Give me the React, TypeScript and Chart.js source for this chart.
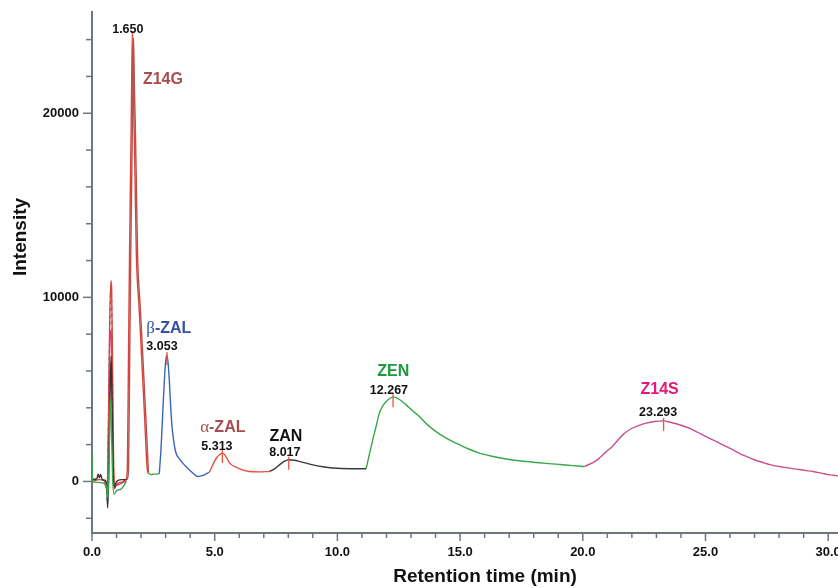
import React, { useEffect, useRef } from "react";
import { Chart, registerables } from "chart.js";

Chart.register(...registerables);

const FONT = "'Liberation Sans', Arial, Helvetica, sans-serif";
const AXIS_COLOR = "#6b7683";

// ---------- axis ticks ----------
const xMajorTicks = [0, 5, 10, 15, 20, 25, 30];
const xMinorTicks = [
  1, 2, 3, 4, 6, 7, 8, 9, 11, 12, 13, 14, 16, 17, 18, 19, 21, 22, 23, 24, 26, 27, 28, 29,
];
const yMajorTicks = [0, 10000, 20000];
const yMinorTicks = [-2000, 2000, 4000, 6000, 8000, 12000, 14000, 16000, 18000, 22000, 24000];

// ---------- trace segments (time in min, intensity) ----------
const blackEarlyT = [0, 0.1, 0.2, 0.25, 0.3, 0.35, 0.42, 0.55, 0.6, 0.64, 0.68, 0.74, 0.78, 0.82, 0.86, 0.92, 1.0, 1.2, 1.42];
const blackEarlyI = [100, 120, 150, 400, 200, 380, 100, 50, -300, -1430, 200, 5000, 6800, 4000, 800, -300, 0, 100, 100];

const greenEarlyT = [0, 0.02, 0.2, 0.5, 0.6, 0.65, 0.7, 0.74, 0.78, 0.84, 0.9, 1.0, 1.2, 1.4];
const greenEarlyI = [1600, 0, -50, -100, -300, -900, 1500, 4500, 3500, 200, -700, -500, -400, 0];

const pinkEarlyT = [0.5, 0.6, 0.66, 0.72, 0.76, 0.8, 0.84, 0.9, 1.0, 1.2, 1.4];
const pinkEarlyI = [0, -400, 1500, 7000, 8200, 7500, 3000, -200, -200, -100, 50];

const blueEarlyT = [0.62, 0.66, 0.72, 0.77, 0.8, 0.84, 0.88, 0.92, 1.0, 1.2, 1.4];
const blueEarlyI = [-1000, 2500, 8000, 10500, 9800, 5000, 800, -300, -200, -100, 50];

const z14gAT = [0, 0.3, 0.55, 0.62, 0.66, 0.72, 0.77, 0.8, 0.84, 0.88, 0.92, 1.0, 1.2, 1.38, 1.44, 1.485, 1.53, 1.6, 1.643, 1.68, 1.71, 1.76, 1.806, 1.92, 2.03, 2.14, 2.254, 2.3];
const z14gAI = [0, 100, 0, -600, 2000, 8500, 10900, 10500, 6000, 1000, -400, -150, -50, 100, 640, 6500, 12400, 19630, 24300, 21500, 19630, 16000, 12400, 9400, 6550, 3600, 640, 450];

const z14gBT = [1.43, 1.49, 1.535, 1.58, 1.65, 1.693, 1.73, 1.76, 1.81, 1.856, 1.97, 2.08, 2.19, 2.3];
const z14gBI = [100, 640, 6500, 12400, 19630, 24100, 21300, 19630, 16000, 12400, 9400, 6550, 3600, 500];

const gapT = [2.28, 2.4, 2.55, 2.75];
const gapI = [470, 380, 400, 420];

const betaT = [2.74, 2.8, 2.85, 2.9, 2.95, 3.0, 3.05, 3.1, 3.15, 3.2, 3.26, 3.34, 3.42, 3.55, 3.69, 3.85, 4.04, 4.2, 4.31, 4.45, 4.58, 4.78];
const betaI = [420, 1500, 2790, 4200, 5500, 6500, 6870, 6450, 5500, 4200, 2990, 2100, 1560, 1250, 1010, 780, 540, 350, 270, 300, 360, 500];

const alphaT = [4.78, 4.99, 5.1, 5.22, 5.31, 5.4, 5.5, 5.6, 6.0, 6.41, 6.8, 7.23];
const alphaI = [500, 1090, 1330, 1480, 1540, 1460, 1250, 1010, 700, 540, 520, 540];

const zanT = [7.23, 7.45, 7.64, 7.85, 8.02, 8.25, 8.45, 9.0, 9.4, 9.81, 10.5, 11.17];
const zanI = [540, 700, 900, 1100, 1180, 1150, 1090, 900, 800, 730, 690, 690];

const zenT = [11.17, 11.3, 11.44, 11.58, 11.71, 11.85, 11.99, 12.15, 12.32, 12.5, 12.8, 13.05, 13.34, 13.65, 14.02, 14.4, 14.84, 15.3, 15.79, 16.3, 16.88, 17.5, 18.1, 18.6, 19.19, 19.6, 20.07];
const zenI = [690, 1450, 2260, 3000, 3710, 4100, 4340, 4520, 4580, 4480, 4160, 3850, 3530, 3100, 2710, 2380, 2080, 1790, 1540, 1370, 1220, 1110, 1030, 970, 910, 860, 810];

const z14sT = [20.07, 20.55, 20.96, 21.22, 21.63, 21.9, 22.24, 22.58, 22.92, 23.26, 23.6, 23.94, 24.28, 24.62, 24.96, 25.3, 25.64, 25.98, 26.32, 26.66, 26.99, 27.34, 27.67, 28.02, 28.36, 28.7, 29.04, 29.38, 29.72, 30.06, 30.39];
const z14sI = [810, 1130, 1620, 1930, 2530, 2810, 3020, 3170, 3260, 3290, 3200, 3080, 2930, 2710, 2480, 2260, 2030, 1810, 1570, 1360, 1180, 1030, 900, 810, 740, 670, 600, 540, 450, 360, 310];

// ---------- peak annotations ----------
const peakTimes = [1.65, 3.053, 5.313, 8.017, 12.267, 23.293];
const peakApex = [24300, 6870, 1540, 1180, 4580, 3290];
const rtLabels = ["1.650", "3.053", "5.313", "8.017", "12.267", "23.293"];
const rtLabelT = [1.46, 2.85, 5.09, 7.86, 12.1, 23.07];
const rtLabelI = [24570, 7310, 1880, 1590, 4950, 3730];

const nameGreek = ["", "β", "α", "", "", ""];
const nameText = ["Z14G", "-ZAL", "-ZAL", "ZAN", "ZEN", "Z14S"];
const nameT = [2.89, 3.13, 5.33, 7.9, 12.28, 23.13];
const nameI = [21840, 8290, 2940, 2450, 5960, 4980];
const nameColors = ["#a84d4f", "#3552a4", "#a84d4f", "#111111", "#1c9a3d", "#e3187b"];

const toXY = (t: number[], v: number[]) => t.map((tt, i) => ({ x: tt, y: v[i] }));

const overlay = {
  id: "overlay",
  afterDatasetsDraw(chart: any) {
    const { ctx, scales } = chart;
    const x = scales.x;
    const y = scales.y;
    ctx.save();
    // peak markers
    ctx.strokeStyle = "#e8553f";
    ctx.lineWidth = 1.3;
    peakTimes.forEach((t, i) => {
      const px = x.getPixelForValue(t);
      const py = y.getPixelForValue(peakApex[i]);
      ctx.beginPath();
      ctx.moveTo(px, py - 3);
      ctx.lineTo(px, py + 10);
      ctx.stroke();
    });
    // retention-time labels
    ctx.fillStyle = "#111111";
    ctx.font = `bold 12.5px ${FONT}`;
    ctx.textAlign = "center";
    ctx.textBaseline = "middle";
    rtLabels.forEach((s, i) => {
      ctx.fillText(s, x.getPixelForValue(rtLabelT[i]), y.getPixelForValue(rtLabelI[i]));
    });
    // compound names
    nameText.forEach((s, i) => {
      const cx = x.getPixelForValue(nameT[i]);
      const cy = y.getPixelForValue(nameI[i]);
      ctx.fillStyle = nameColors[i];
      ctx.font = `bold 16px ${FONT}`;
      const wText = ctx.measureText(s).width;
      let wGreek = 0;
      if (nameGreek[i]) {
        ctx.font = `17px 'Liberation Serif', 'DejaVu Serif', serif`;
        wGreek = ctx.measureText(nameGreek[i]).width;
      }
      const left = cx - (wText + wGreek) / 2;
      ctx.textAlign = "left";
      if (nameGreek[i]) {
        ctx.font = `17px 'Liberation Serif', 'DejaVu Serif', serif`;
        ctx.fillText(nameGreek[i], left, cy);
      }
      ctx.font = `bold 16px ${FONT}`;
      ctx.fillText(s, left + wGreek, cy);
    });
    ctx.restore();
  },
  afterDraw(chart: any) {
    const { ctx, scales, chartArea } = chart;
    const x = scales.x;
    const y = scales.y;
    ctx.save();
    ctx.strokeStyle = AXIS_COLOR;
    ctx.lineWidth = 1.5;
    const bottom = chartArea.bottom + 1;
    const drawX = (v: number, len: number) => {
      const px = x.getPixelForValue(v);
      ctx.beginPath();
      ctx.moveTo(px, bottom);
      ctx.lineTo(px, bottom + len);
      ctx.stroke();
    };
    xMajorTicks.forEach((v) => drawX(v, 7));
    xMinorTicks.forEach((v) => drawX(v, 4));
    const left = chartArea.left - 1;
    const drawY = (v: number, len: number) => {
      const py = y.getPixelForValue(v);
      ctx.beginPath();
      ctx.moveTo(left, py);
      ctx.lineTo(left - len, py);
      ctx.stroke();
    };
    yMajorTicks.forEach((v) => drawY(v, 8));
    yMinorTicks.forEach((v) => drawY(v, 5));

    // axis titles
    ctx.fillStyle = "#111111";
    ctx.font = `bold 19px ${FONT}`;
    ctx.textAlign = "center";
    ctx.textBaseline = "middle";
    ctx.fillText("Retention time (min)", 485, 577);
    ctx.translate(20.5, 237);
    ctx.rotate(-Math.PI / 2);
    ctx.fillText("Intensity", 0, 0);
    ctx.restore();
  },
};

export default function App() {
  const canvasRef = useRef<HTMLCanvasElement | null>(null);

  useEffect(() => {
    if (!canvasRef.current) return;
    const line = (data: any, color: string, extra: any = {}) => ({
      data,
      borderColor: color,
      borderWidth: 1.4,
      pointRadius: 0,
      fill: false,
      cubicInterpolationMode: "monotone",
      ...extra,
    });
    const chart = new Chart(canvasRef.current, {
      type: "line",
      data: {
        datasets: [
          line(toXY(greenEarlyT, greenEarlyI), "#3aa64a"),
          line(toXY(blackEarlyT, blackEarlyI), "#333333"),
          line(toXY(z14gBT, z14gBI), "#b5524c"),
          line(toXY(z14gAT, z14gAI), "#d8453b"),
          line(toXY(pinkEarlyT, pinkEarlyI), "#e0408a"),
          line(toXY(blueEarlyT, blueEarlyI), "#3a66b8", { borderDash: [2, 5] }),
          line(toXY(gapT, gapI), "#3aa64a"),
          line(toXY(betaT, betaI), "#3a66b8"),
          line(toXY(alphaT, alphaI), "#e8503a"),
          line(toXY(zanT, zanI), "#3a3a3a"),
          line(toXY(zenT, zenI), "#3aa64a"),
          line(toXY(z14sT, z14sI), "#c9508f"),
        ],
      },
      options: {
        animation: false,
        responsive: false,
        maintainAspectRatio: false,
        parsing: false as any,
        layout: { padding: { top: 12, left: 0, right: 0, bottom: 0 } },
        plugins: {
          legend: { display: false },
          tooltip: { enabled: false },
        },
        scales: {
          x: {
            type: "linear",
            min: 0,
            max: 30.4,
            grid: { display: false, drawTicks: false },
            border: { display: true, color: AXIS_COLOR, width: 2 },
            ticks: {
              color: "#111111",
              font: { family: FONT, size: 13, weight: "bold" },
              padding: 12,
              maxRotation: 0,
              autoSkip: false,
              callback: (v: any) => Number(v).toFixed(1),
            },
            afterBuildTicks: (scale: any) => {
              scale.ticks = xMajorTicks.map((v) => ({ value: v }));
            },
            afterFit: (scale: any) => {
              scale.height = 55;
              scale.paddingLeft = 0;
              scale.paddingRight = 0;
            },
          },
          y: {
            type: "linear",
            min: -2800,
            max: 25500,
            grid: { display: false, drawTicks: false },
            border: { display: true, color: AXIS_COLOR, width: 2 },
            ticks: {
              color: "#111111",
              font: { family: FONT, size: 13, weight: "bold" },
              padding: 13,
              autoSkip: false,
              callback: (v: any) => String(v),
            },
            afterBuildTicks: (scale: any) => {
              scale.ticks = yMajorTicks.map((v) => ({ value: v }));
            },
            afterFit: (scale: any) => {
              scale.width = 92;
              scale.paddingTop = 0;
              scale.paddingBottom = 0;
            },
          },
        },
      } as any,
      plugins: [overlay],
    });
    return () => chart.destroy();
  }, []);

  return (
    <div style={{ position: "fixed", left: 0, top: 0, width: 838, height: 588, background: "#ffffff" }}>
      <canvas ref={canvasRef} width={838} height={588} style={{ display: "block", width: 838, height: 588 }} />
    </div>
  );
}
